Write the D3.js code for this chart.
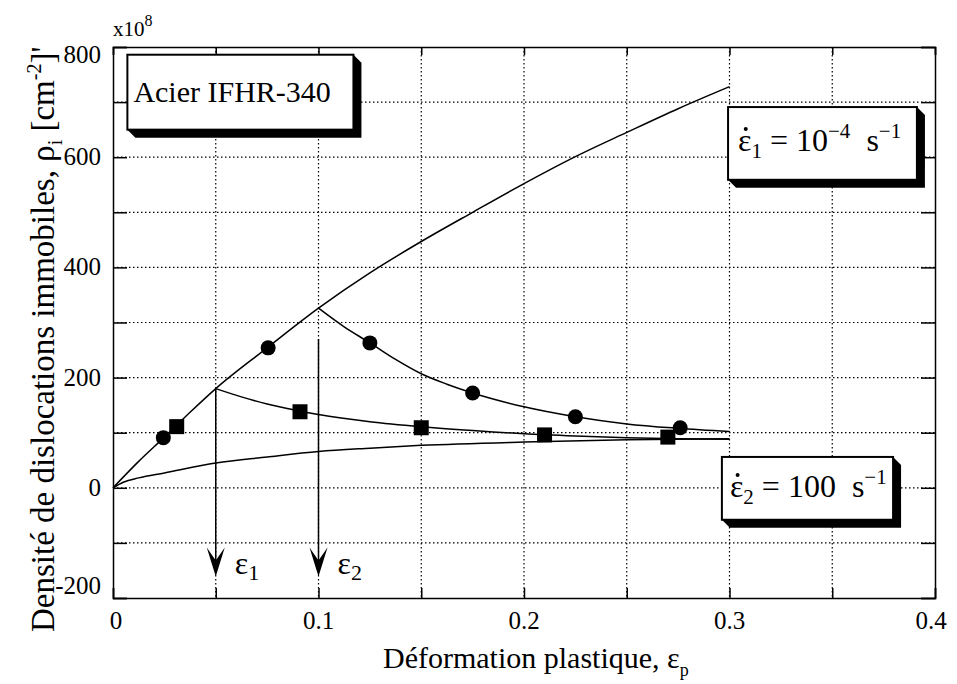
<!DOCTYPE html>
<html><head><meta charset="utf-8">
<script src="https://cdn.jsdelivr.net/npm/d3@7"></script>
<style>
body{margin:0;background:#fff;}
svg text{font-family:"Liberation Serif","Times New Roman",serif;fill:#000;}
</style></head>
<body><svg id="c" width="957" height="684"></svg>
<script>
// ---- data ----
const xTicks = [0, 0.1, 0.2, 0.3, 0.4];
const xTickLabels = ["0", "0.1", "0.2", "0.3", "0.4"];
const yTicks = [-200, 0, 200, 400, 600, 800];
const yTickLabels = ["-200", "0", "200", "400", "600", "800"];
const xGrid = [0.05, 0.1, 0.15, 0.2, 0.25, 0.3, 0.35];
const yGrid = [-100, 0, 100, 200, 300, 400, 500, 600, 700];

// monotonic curve at strain rate 1e-4 s-1
const curveSlowX = [0, 0.0125, 0.025, 0.0375, 0.05, 0.075, 0.1, 0.125, 0.15, 0.175, 0.2, 0.225, 0.25, 0.275, 0.3];
const curveSlowY = [0, 48, 92, 137, 180, 254, 326, 390, 447, 500, 552, 601, 645, 688, 728];
// monotonic curve at strain rate 100 s-1
const curveFastX = [0, 0.005, 0.0125, 0.025, 0.05, 0.075, 0.1, 0.125, 0.15, 0.2, 0.25, 0.3];
const curveFastY = [0, 10, 18, 27, 45, 56, 66, 72, 77, 83, 87, 89];
// change of rate at eps1 = 0.05
const change1X = [0.05, 0.0625, 0.075, 0.09, 0.1, 0.125, 0.15, 0.175, 0.2, 0.225, 0.25, 0.275, 0.3];
const change1Y = [180, 165, 152, 140, 133, 120, 111, 104, 98, 94, 91, 89, 88];
// change of rate at eps2 = 0.1
const change2X = [0.1, 0.1125, 0.125, 0.1375, 0.15, 0.1625, 0.175, 0.2, 0.225, 0.25, 0.275, 0.3];
const change2Y = [326, 292, 263, 233, 207, 188, 172, 147, 129, 116, 108, 102];
// measured points
const circlesX = [0.0245, 0.0755, 0.125, 0.175, 0.225, 0.276];
const circlesY = [91, 254, 263, 172, 129, 109];
const squaresX = [0.031, 0.091, 0.150, 0.210, 0.270];
const squaresY = [111, 138, 109, 96, 92];
// arrows
const arrowX = [0.05, 0.1];
const arrowFrom = [180, 270];
const arrowTo = [-161, -161];
const arrowSub = ["1", "2"];

// ---- layout ----
const svg = d3.select("#c");
const X0 = 113, X1 = 935, Y0 = 47, Y1 = 598;
const x = d3.scaleLinear().domain([0, 0.4]).range([X0, X1]);
const y = d3.scaleLinear().domain([-200, 800]).range([Y1, Y0]);

// grid
const g = svg.append("g");
g.selectAll(".gx").data(xGrid).enter().append("line")
  .attr("x1", d => x(d)).attr("x2", d => x(d)).attr("y1", Y0).attr("y2", Y1)
  .attr("stroke", "#000").attr("stroke-width", 1.2).attr("stroke-dasharray", "1.5,2.5");
g.selectAll(".gy").data(yGrid).enter().append("line")
  .attr("x1", X0).attr("x2", X1).attr("y1", d => y(d)).attr("y2", d => y(d))
  .attr("stroke", "#000").attr("stroke-width", 1.2).attr("stroke-dasharray", "1.5,2.5");

// axes via d3
const yTickAll = d3.range(-200, 801, 100);
const xTickAll = d3.range(0, 0.4001, 0.05);
const axL = d3.axisLeft(y).tickValues(yTickAll).tickSize(-14).tickFormat("");
const axR = d3.axisRight(y).tickValues(yTickAll).tickSize(-14).tickFormat("");
const axB = d3.axisBottom(x).tickValues(xTickAll).tickSize(-10).tickFormat("");
const axT = d3.axisTop(x).tickValues(xTickAll).tickSize(-8).tickFormat("");
[[axL, `translate(${X0},0)`], [axR, `translate(${X1},0)`], [axB, `translate(0,${Y1})`], [axT, `translate(0,${Y0})`]].forEach(([a, t]) => {
  const s = svg.append("g").attr("transform", t).call(a);
  s.selectAll("path").attr("stroke", "#000").attr("stroke-width", 1.5);
  s.selectAll("line").attr("stroke", "#000").attr("stroke-width", 1.5);
});

// tick labels
svg.selectAll(".xl").data(xTicks).enter().append("text")
  .attr("x", (d, i) => x(d) + (i === 0 ? 3 : (i === 4 ? -4 : 0))).attr("y", 629)
  .attr("text-anchor", "middle").attr("font-size", 25).text((d, i) => xTickLabels[i]);
svg.selectAll(".yl").data(yTicks).enter().append("text")
  .attr("x", 101).attr("y", d => y(d) + 8 + (d === 800 ? 8 : 0) + (d === -200 ? -12 : 0))
  .attr("text-anchor", "end").attr("font-size", 25).text((d, i) => yTickLabels[i]);

// exponent
const ex = svg.append("text").attr("x", X0).attr("y", 36).attr("font-size", 21);
ex.append("tspan").text("x10");
ex.append("tspan").attr("dy", -10).attr("font-size", 16).text("8");

// curves
const line = d3.line().x(d => x(d[0])).y(d => y(d[1])).curve(d3.curveMonotoneX);
const zip = (a, b) => a.map((v, i) => [v, b[i]]);
[[curveSlowX, curveSlowY], [curveFastX, curveFastY], [change1X, change1Y], [change2X, change2Y]].forEach(([a, b]) => {
  svg.append("path").attr("d", line(zip(a, b))).attr("fill", "none")
    .attr("stroke", "#000").attr("stroke-width", 1.5);
});

// markers
svg.selectAll(".ci").data(zip(circlesX, circlesY)).enter().append("circle")
  .attr("cx", d => x(d[0])).attr("cy", d => y(d[1])).attr("r", 7.5).attr("fill", "#000");
svg.selectAll(".sq").data(zip(squaresX, squaresY)).enter().append("rect")
  .attr("x", d => x(d[0]) - 7.5).attr("y", d => y(d[1]) - 7.5)
  .attr("width", 15).attr("height", 15).attr("fill", "#000");

// arrows
arrowX.forEach((ax, i) => {
  const px = x(ax), top = y(arrowFrom[i]), tip = y(arrowTo[i]);
  svg.append("line").attr("x1", px).attr("x2", px).attr("y1", top).attr("y2", tip - 10)
    .attr("stroke", "#000").attr("stroke-width", 1.5);
  svg.append("path").attr("d", `M${px},${tip} L${px - 9},${tip - 29} L${px},${tip - 16} L${px + 9},${tip - 29} Z`)
    .attr("fill", "#000");
  const t = svg.append("text").attr("x", px + 19).attr("y", tip - 3).attr("font-size", 32);
  t.append("tspan").text("ε");
  t.append("tspan").attr("dy", 6).attr("font-size", 22).text(arrowSub[i]);
});

// labels boxes (in data coords)
function box(x0, x1, y0, y1) {
  const a = x(x0), b = x(x1), c = y(y0), d = y(y1), o = 8;
  svg.append("path").attr("d", `M${b},${c} L${b + o},${c + o} L${b + o},${d + o} L${a + o},${d + o} L${a},${d} Z`).attr("fill", "#000");
  svg.append("rect").attr("x", a).attr("y", c).attr("width", b - a).attr("height", d - c)
    .attr("fill", "#fff").attr("stroke", "#000").attr("stroke-width", 2);
  return [a, c];
}
// rate label with dotted epsilon (dot drawn as a tiny circle)
function rateLabel(px, py, sub, parts) {
  const t = svg.append("text").attr("x", px).attr("y", py).attr("font-size", 32);
  const e = t.append("tspan").text("ε");
  const w = e.node().getComputedTextLength();
  svg.append("circle").attr("cx", px + w / 2 + 1).attr("cy", py - 22).attr("r", 2).attr("fill", "#000");
  t.append("tspan").attr("dy", 7).attr("font-size", 21).text(sub);
  let cur = 7;
  parts.forEach(pt => {
    const dy = (pt.sup ? -13 : 0) - cur;
    cur = pt.sup ? -13 : 0;
    const ts = t.append("tspan").attr("dy", dy).text(pt.t);
    if (pt.sup) ts.attr("font-size", 21);
  });
}
let p = box(0.007, 0.117, 786, 650);
svg.append("text").attr("x", p[0] + 6).attr("y", p[1] + 47).attr("font-size", 30).text("Acier IFHR-340");

p = box(0.2993, 0.3912, 691, 559);
rateLabel(p[0] + 10, p[1] + 44, "1", [{t: " = 10"}, {t: "\u22124", sup: true}, {t: "\u00A0\u00A0s"}, {t: "\u22121", sup: true}]);

p = box(0.2963, 0.3796, 56, -58);
rateLabel(p[0] + 8, p[1] + 40, "2", [{t: " = 100\u00A0\u00A0s"}, {t: "\u22121", sup: true}]);

// axis titles
const xt = svg.append("text").attr("x", 383).attr("y", 668).attr("font-size", 30);
xt.append("tspan").text("Déformation plastique, ε");
xt.append("tspan").attr("dy", 8).attr("font-size", 18).text("p");

const yt = svg.append("text").attr("transform", "translate(54,632) rotate(-90)").attr("font-size", 33);
yt.append("tspan").text("Densité de dislocations immobiles, ρ");
yt.append("tspan").attr("dy", 8).attr("font-size", 20).text("i");
yt.append("tspan").attr("dy", -8).text(" [cm");
yt.append("tspan").attr("dy", -13).attr("font-size", 20).text("-2");
yt.append("tspan").attr("dy", 13).text("]'");
</script></body></html>
